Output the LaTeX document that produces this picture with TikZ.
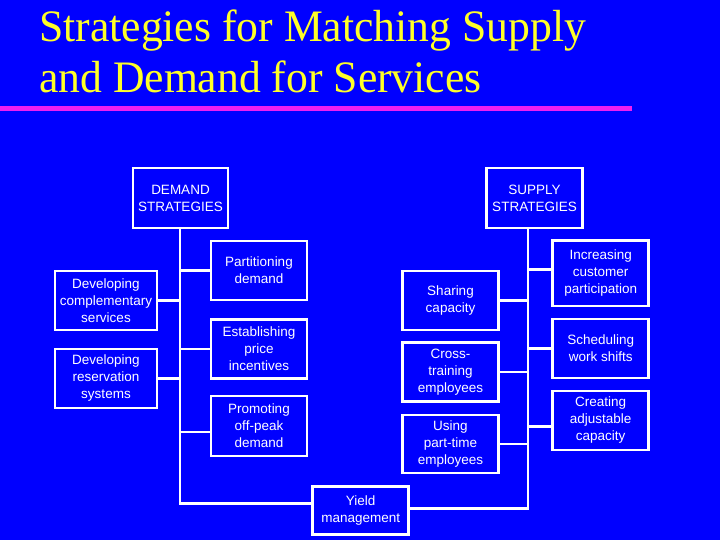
\documentclass[tikz,border=0pt]{standalone}
\usepackage{fontspec}
\setmainfont{Liberation Sans}
\newfontfamily\titlefont{Liberation Serif}
\definecolor{bgblue}{RGB}{0,0,255}
\definecolor{ttlyellow}{RGB}{255,255,40}
\definecolor{rulemag}{RGB}{240,30,240}
\begin{document}
\begin{tikzpicture}[x=1bp,y=-1bp,
  box/.style={draw=white, line width=2.6bp, fill=bgblue, text=white, align=center,
    inner sep=0pt, font=\fontsize{13.5bp}{17bp}\selectfont},
  link/.style={draw=white, line width=2.6bp},
  ttl/.style={text=ttlyellow, inner sep=0pt, anchor=base west,
    font=\titlefont\fontsize{45bp}{51bp}\selectfont, xscale=0.97}]
\fill[bgblue] (0,0) rectangle (720,540);
\useasboundingbox (0,0) rectangle (720,540);
\node[ttl] (t1) at (39,42) {Strategies for Matching Supply};
\node[ttl] (t2) at (39,93) {and Demand for Services};
\fill[rulemag] (0,106) rectangle (632,110.7);

% demand side
\node[box, minimum width=95bp, minimum height=60bp] (dem) at (180.5,198) {DEMAND\\STRATEGIES};
\node[box, minimum width=96bp, minimum height=59bp] (part) at (259,270.5) {Partitioning\\demand};
\node[box, minimum width=102bp, minimum height=59bp] (comp) at (106,300.5) {Developing\\complementary\\services};
\node[box, minimum width=96bp, minimum height=59bp] (price) at (259,349) {Establishing\\price\\incentives};
\node[box, minimum width=102bp, minimum height=59bp] (resv) at (106,378.5) {Developing\\reservation\\systems};
\node[box, minimum width=96bp, minimum height=60bp] (peak) at (259,426) {Promoting\\off-peak\\demand};
\node[box, minimum width=96bp, minimum height=48bp] (yield) at (360.7,510.5) {Yield\\management};

% supply side
\node[box, minimum width=96bp, minimum height=60bp] (sup) at (534.5,198) {SUPPLY\\STRATEGIES};
\node[box, minimum width=96bp, minimum height=65bp] (incr) at (600.7,273.3) {Increasing\\customer\\participation};
\node[box, minimum width=96bp, minimum height=59bp] (share) at (450.5,300.5) {Sharing\\capacity};
\node[box, minimum width=96bp, minimum height=59bp] (sched) at (600.7,348.6) {Scheduling\\work shifts};
\node[box, minimum width=96bp, minimum height=59bp] (cross) at (450.5,372) {Cross-\\training\\employees};
\node[box, minimum width=96bp, minimum height=59bp] (adj) at (600.7,420.3) {Creating\\adjustable\\capacity};
\node[box, minimum width=96bp, minimum height=58bp] (part2) at (450.5,444) {Using\\part-time\\employees};

% trunks
\coordinate (db) at (180,503.3);
\coordinate (sb) at (528,508.3);
\draw[link] (db |- dem.south) -- (db) -- (db -| yield.west);
\draw[link] (sb |- sup.south) -- (sb) -- (sb -| yield.east);

% demand branches
\draw[link] (part.west) -- (part.west -| db);
\draw[link] (comp.east) -- (comp.east -| db);
\draw[link] (price.west) -- (price.west -| db);
\draw[link] (resv.east) -- (resv.east -| db);
\draw[link] ([yshift=-6bp]peak.west) -- ([yshift=-6bp]peak.west -| db);

% supply branches
\draw[link] ([yshift=4bp]incr.west) -- ([yshift=4bp]incr.west -| sb);
\draw[link] (share.east) -- (share.east -| sb);
\draw[link] (sched.west) -- (sched.west -| sb);
\draw[link] (cross.east) -- (cross.east -| sb);
\draw[link] ([yshift=-6bp]adj.west) -- ([yshift=-6bp]adj.west -| sb);
\draw[link] (part2.east) -- (part2.east -| sb);
\end{tikzpicture}
\end{document}
